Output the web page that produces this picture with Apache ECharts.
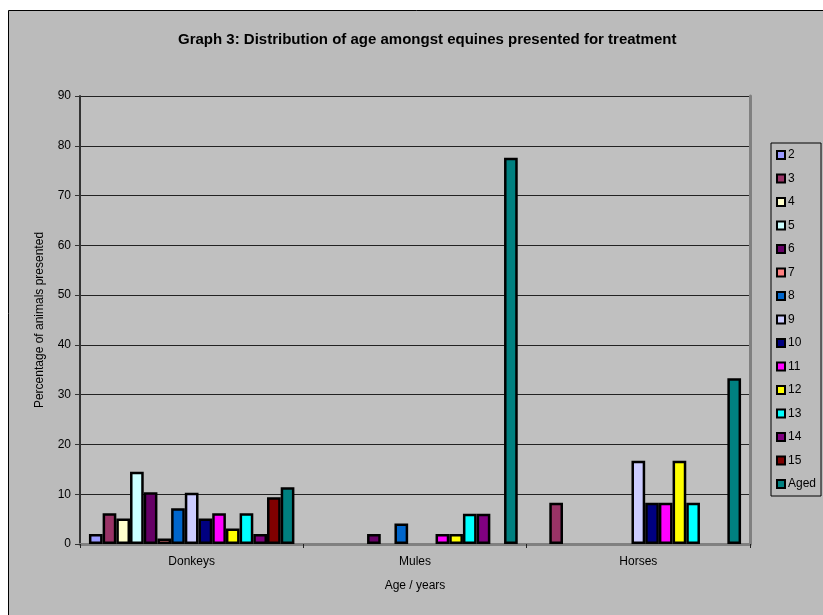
<!DOCTYPE html>
<html>
<head>
<meta charset="utf-8">
<script src="https://cdn.jsdelivr.net/npm/echarts@6/dist/echarts.min.js"></script>
<style>
  html, body { margin: 0; padding: 0; background: #ffffff; }
  #chart { width: 823px; height: 615px; }
</style>
</head>
<body>
<div id="chart"></div>
<script>
// Animal groups along the x axis
const categories = ['Donkeys', 'Mules', 'Horses'];

// Age groups (one bar series each)
const ageGroups = ['2', '3', '4', '5', '6', '7', '8', '9', '10', '11', '12', '13', '14', '15', 'Aged'];

// Percentage of animals presented, per age group, for each animal group
const donkeys = [2.0, 6.2, 5.1, 14.5, 10.4, 1.1, 7.2, 10.3, 5.1, 6.2, 3.1, 6.2, 2.0, 9.4, 11.4];
const mules   = [null, null, null, null, 2.0, null, 4.1, null, null, 2.0, 2.0, 6.1, 6.1, null, 77.6];
const horses  = [null, 8.3, null, null, null, null, null, 16.7, 8.3, 8.3, 16.7, 8.3, null, null, 33.3];

// Y axis ticks
const yTicks = [0, 10, 20, 30, 40, 50, 60, 70, 80, 90];

const palette = ['#9999FF', '#993366', '#FFFFCC', '#CCFFFF', '#660066', '#FF8080', '#0066CC',
  '#CCCCFF', '#000080', '#FF00FF', '#FFFF00', '#00FFFF', '#800080', '#800000', '#008080'];

const font = 'Arial, "Liberation Sans", sans-serif';

const series = ageGroups.map((name, i) => ({
  name: name,
  type: 'bar',
  xAxisIndex: 0,
  yAxisIndex: 0,
  barGap: '0%',
  barCategoryGap: '8%',
  data: [donkeys[i], mules[i], horses[i]],
  itemStyle: { color: palette[i], borderColor: '#000000', borderWidth: 2.5 }
}));

const chart = echarts.init(document.getElementById('chart'), null, { renderer: 'canvas' });

chart.setOption({
  animation: false,
  backgroundColor: '#ffffff',
  graphic: [{
    type: 'rect',
    z: -10,
    shape: { x: 8.5, y: 10.5, width: 830, height: 620 },
    style: { fill: '#bbbbbb', stroke: '#000000', lineWidth: 1 }
  }],
  title: {
    text: 'Graph 3: Distribution of age amongst equines presented for treatment',
    left: 173,
    top: 27,
    textStyle: { fontFamily: font, fontSize: 15, fontWeight: 'bold', color: '#000000' }
  },
  legend: {
    orient: 'vertical',
    left: 771,
    top: 143,
    data: ageGroups,
    icon: 'rect',
    itemWidth: 8,
    itemHeight: 8,
    itemGap: 9.5,
    padding: [5, 5, 5, 5],
    backgroundColor: '#bbbbbb',
    borderColor: '#000000',
    borderWidth: 1,
    borderRadius: 0,
    textStyle: { fontFamily: font, fontSize: 12, color: '#000000', lineHeight: 14, padding: [0, 0, 0, -2] },
    itemStyle: { borderColor: '#000000', borderWidth: 2 }
  },
  grid: {
    left: 80,
    top: 96,
    right: 73,
    bottom: 71,
    show: true,
    backgroundColor: '#c0c0c0',
    borderWidth: 0
  },
  xAxis: [{
    type: 'category',
    data: categories,
    name: 'Age / years',
    nameLocation: 'middle',
    nameGap: 36,
    nameTextStyle: { fontFamily: font, fontSize: 12, color: '#000000' },
    axisLine: { lineStyle: { color: '#222222', width: 1 } },
    axisTick: { show: true, length: 4, lineStyle: { color: '#222222' } },
    axisLabel: { fontFamily: font, fontSize: 12, color: '#000000', margin: 12 },
    splitLine: { show: false }
  }, {
    type: 'category',
    position: 'top',
    data: categories,
    axisLine: { lineStyle: { color: '#808080', width: 3 } },
    axisTick: { show: false },
    axisLabel: { show: false }
  }],
  yAxis: [{
    type: 'value',
    min: yTicks[0],
    max: yTicks[yTicks.length - 1],
    interval: 10,
    name: 'Percentage of animals presented',
    nameLocation: 'middle',
    nameGap: 34,
    nameTextStyle: { fontFamily: font, fontSize: 12, color: '#000000' },
    axisLine: { show: true, lineStyle: { color: '#333333', width: 2 } },
    axisTick: { show: true, length: 5, lineStyle: { color: '#333333' } },
    axisLabel: { fontFamily: font, fontSize: 12, color: '#000000', margin: 9 },
    splitLine: { show: true, lineStyle: { color: '#222222', width: 1 } }
  }, {
    type: 'value',
    position: 'right',
    min: yTicks[0],
    max: yTicks[yTicks.length - 1],
    interval: 10,
    axisLine: { show: true, lineStyle: { color: '#808080', width: 3 } },
    axisTick: { show: false },
    axisLabel: { show: false },
    splitLine: { show: false }
  }],
  series: series
});
</script>
</body>
</html>
